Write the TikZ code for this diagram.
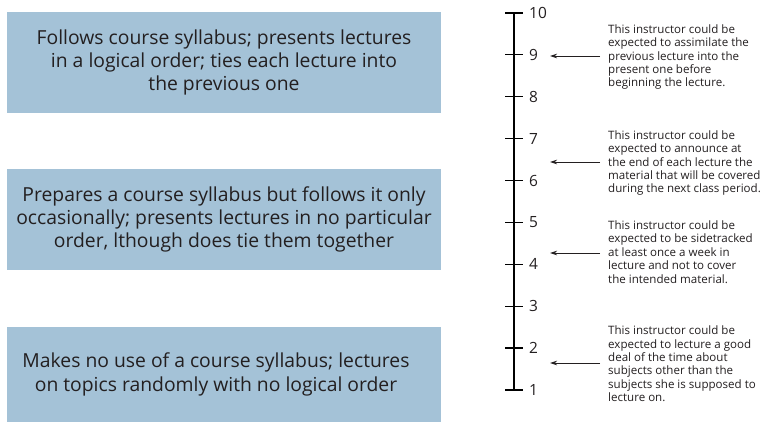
\documentclass[tikz,border=0pt]{standalone}
\usepackage{fontspec}
\setmainfont{Open Sans}
\usetikzlibrary{arrows.meta}
\definecolor{boxblue}{HTML}{A4C2D7}
\definecolor{txt}{HTML}{231F20}
\begin{document}
\begin{tikzpicture}[x=1bp,y=-1bp,
  box/.style={draw=none,fill=boxblue,minimum width=434bp,minimum height=101bp,inner sep=0,align=center,text=txt,font=\fontsize{19.4}{23.3}\selectfont},
  num/.style={anchor=west,inner sep=0,text=txt,font=\fontsize{15.5}{18}\selectfont},
  ann/.style={anchor=west,inner xsep=8bp,inner ysep=0,align=left,text=txt,font=\fontsize{11.6}{13.4}\selectfont},
  tick/.style={line width=1.3bp,black},
  pointer/.style={line width=0.8bp,txt,-{Stealth[length=7bp,width=4.5bp]}}]
\useasboundingbox (0,0) rectangle (763,422);
\node[box] (b1) at (224,62.5) {Follows course syllabus; presents lectures\\in a logical order; ties each lecture into\\the previous one};
\node[box,minimum height=101bp] (b2) at (224,219.5) {Prepares a course syllabus but follows it only\\occasionally; presents lectures in no particular\\order, lthough does tie them together};
\node[box,minimum height=95bp] (b3) at (224,374.5) {Makes no use of a course syllabus; lectures\hspace*{16bp}\\on topics randomly with no logical order\hspace*{16bp}};
% scale
\foreach \i in {1,...,10}{
  \coordinate (t\i) at (514,{390-(\i-1)*41.9});
  \draw[tick] ([xshift=-9bp]t\i) -- ([xshift=9bp]t\i);
  \node[num] (n\i) at ([xshift=15bp]t\i) {\i};
}
\draw[tick] (t1) -- (t10);
% annotations
\coordinate (p1) at (550,56);
\coordinate (p2) at (550,162);
\coordinate (p3) at (550,253);
\coordinate (p4) at (550,363);
\node[ann] (a1) at (600,57) {This instructor could be\\expected to assimilate the\\previous lecture into the\\present one before\\beginning the lecture.};
\node[ann] (a2) at (600,163) {This instructor could be\\expected to announce at\\the end of each lecture the\\material that will be covered\\during the next class period.};
\node[ann] (a3) at (600,252) {This instructor could be\\expected to be sidetracked\\at least once a week in\\lecture and not to cover\\the intended material.};
\node[ann] (a4) at (600,364) {This instructor could be\\expected to lecture a good\\deal of the time about\\subjects other than the\\subjects she is supposed to\\lecture on.};
\draw[pointer] (a1.west |- p1) -- (p1);
\draw[pointer] (a2.west |- p2) -- (p2);
\draw[pointer] (a3.west |- p3) -- (p3);
\draw[pointer] (a4.west |- p4) -- (p4);
\end{tikzpicture}
\end{document}
